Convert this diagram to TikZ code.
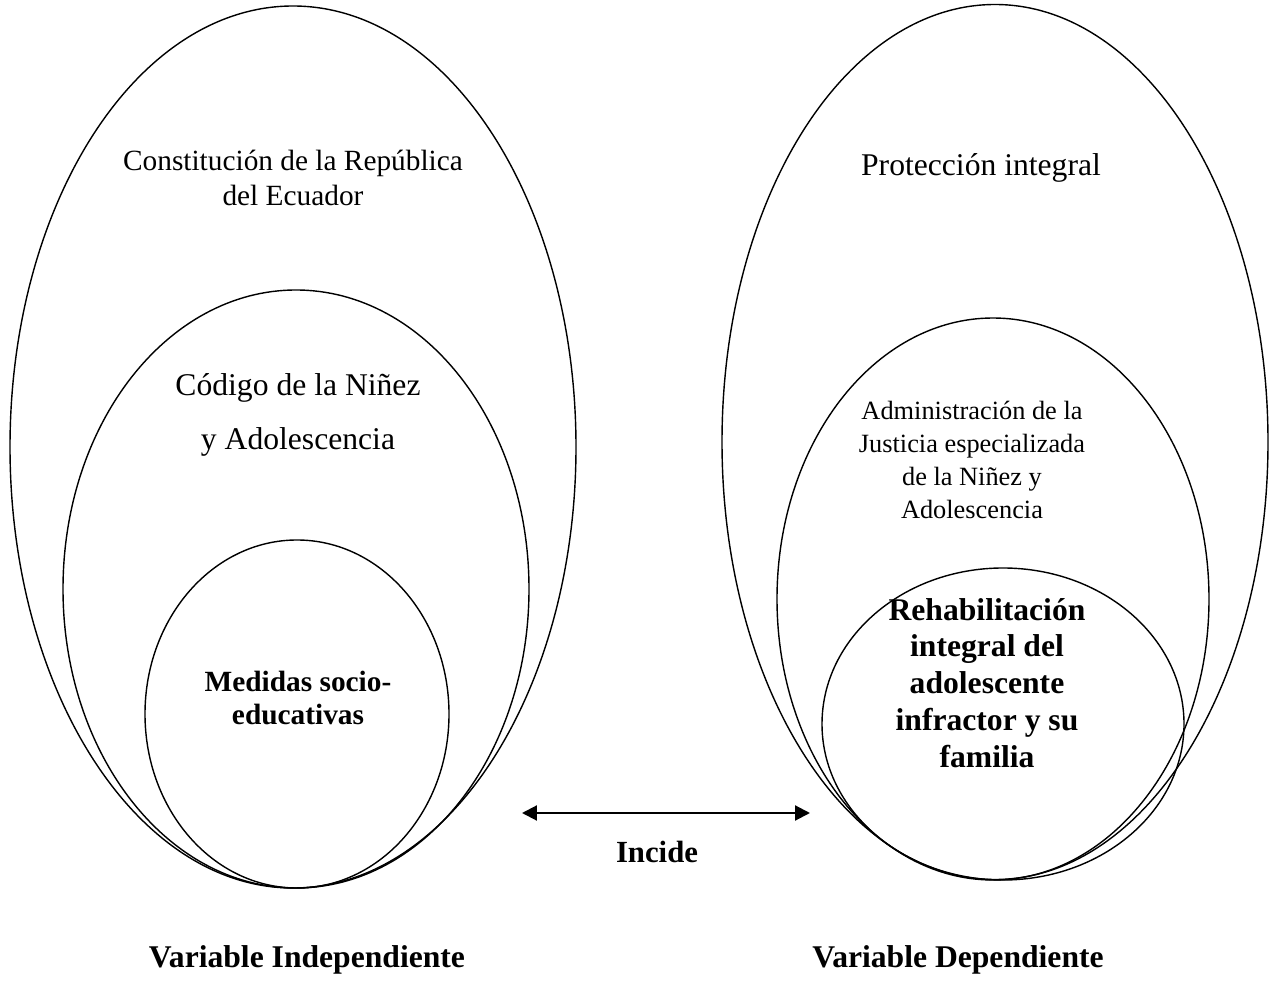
\documentclass[tikz,border=0pt]{standalone}
\usepackage{fontspec}
\setmainfont{Liberation Serif}
\usetikzlibrary{shapes.geometric,arrows.meta}

\begin{document}
\begin{tikzpicture}[x=0.02cm,y=-0.02cm]
	\tikzset{contour/.style={ellipse, draw=black, line width=0.8pt, inner sep=0pt},
	texte/.style={align=center, inner sep=0pt},
	fleche/.style={line width=1.2pt, {Triangle[length=8.5pt,width=8.5pt]}-{Triangle[length=8.5pt,width=8.5pt]}}};

	\useasboundingbox (0,0) rectangle (1278,982);

	% variable independiente
	\node[contour, minimum width=566*0.02cm, minimum height=882*0.02cm] (constitucion) at (293, 447) {};
	\node[contour, minimum width=466*0.02cm, minimum height=598*0.02cm] (codigo) at (296, 589) {};
	\node[contour, minimum width=304*0.02cm, minimum height=348*0.02cm] (medidas) at (297, 714) {};

	% variable dependiente
	\node[contour, minimum width=546*0.02cm, minimum height=875*0.02cm] (proteccion) at (995, 442) {};
	\node[contour, minimum width=432*0.02cm, minimum height=562*0.02cm] (justicia) at (993, 599) {};
	\node[contour, minimum width=362*0.02cm, minimum height=312*0.02cm] (rehabilitacion) at (1003, 724) {};

	\node[texte, font=\fontsize{16.7}{19.8}\selectfont] (t1) at (293, 178) {Constitución de la República\\del Ecuador};
	\node[texte, font=\fontsize{18}{31}\selectfont] (t2) at (298, 415) {Código de la Niñez\\y Adolescencia};
	\node[texte, font=\fontsize{16.7}{19.3}\selectfont\bfseries] (t3) at (298, 698) {Medidas socio-\\educativas};

	\node[texte, font=\fontsize{18}{21}\selectfont] (t4) at (981, 168) {Protección integral};
	\node[texte, font=\fontsize{15}{18.9}\selectfont] (t5) at (972, 460) {Administración de la\\Justicia especializada\\de la Niñez y\\Adolescencia};
	\node[texte, font=\fontsize{18}{21}\selectfont\bfseries] (t6) at (987, 683) {Rehabilitación\\integral del\\adolescente\\infractor y su\\familia};

	\coordinate (gauche) at (522, 813);
	\coordinate (droite) at (810, 813);
	\draw[fleche] (gauche) -- (droite);
	\node[texte, font=\fontsize{17.5}{21}\selectfont\bfseries] (incide) at (657, 852) {Incide};

	\node[texte, font=\fontsize{18}{21}\selectfont\bfseries] (vi) at (307, 960) {Variable Independiente};
	\node[texte, font=\fontsize{18}{21}\selectfont\bfseries] (vd) at (958, 960) {Variable Dependiente};

\end{tikzpicture}
\end{document}
